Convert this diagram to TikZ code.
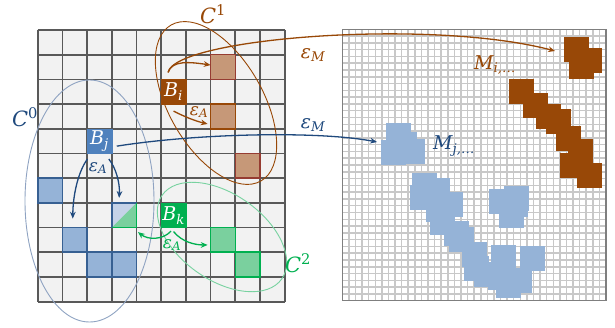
\documentclass[tikz,border=0pt]{standalone}
\usepackage{fontspec}
\newfontfamily\labfont{DejaVu Serif}
\usepackage{tikz}
\usetikzlibrary{arrows.meta,calc}
\definecolor{rust}{RGB}{152,72,7}
\definecolor{rustlight}{RGB}{198,152,120}
\definecolor{rustedge}{RGB}{150,60,50}
\definecolor{seedblue}{RGB}{79,129,189}
\definecolor{skyblue}{RGB}{149,179,215}
\definecolor{paleblue}{RGB}{197,211,232}
\definecolor{navy}{RGB}{31,73,125}
\definecolor{edgeblue}{RGB}{55,96,146}
\definecolor{seedgreen}{RGB}{0,176,80}
\definecolor{mint}{RGB}{122,208,158}
\definecolor{czeroline}{RGB}{143,163,194}
\definecolor{ctwoline}{RGB}{120,210,160}
\definecolor{cellgrey}{RGB}{242,242,242}
\definecolor{linegrey}{RGB}{89,89,89}
\definecolor{finegrey}{RGB}{200,200,200}
\definecolor{framegrey}{RGB}{127,127,127}
% italic symbol with subscript / upright superscript
\newcommand{\symsub}[3][19]{{\fontsize{#1}{#1}\selectfont\itshape #2\textsubscript{#3}}}
\newcommand{\symsup}[3][21]{{\fontsize{#1}{#1}\selectfont\itshape #2\textsuperscript{\upshape #3}}}
\tikzset{gridline/.style={draw=linegrey,line width=1.7pt},
         finegrid/.style={draw=finegrey,line width=1.5pt},
         cellbox/.style={minimum size=24.7pt,inner sep=0pt,outer sep=0pt},
         seedcell/.style={cellbox,fill=#1,draw=#1,text=white},
         hitcell/.style 2 args={cellbox,fill=#1,draw=#2,line width=1.6pt},
         linkarrow/.style={draw=#1,line width=1.3pt,-{Stealth[length=2.4mm,width=2mm]}},
         cluster/.style={draw=#1,line width=0.9pt},
         lbl/.style={text=#1,inner sep=0pt}}

\begin{document}
\begin{tikzpicture}[x=1pt,y=-1pt,font=\labfont]
  \useasboundingbox (0,0) rectangle (615,328);
  % coarse grid
  \fill[cellgrey] (37.7,30) rectangle (284.7,301.7);
  \foreach \c in {0,...,10}
    \draw[gridline] ({37.7+24.7*\c},30) -- ++(0,271.7);
  \foreach \r in {0,...,11}
    \draw[gridline] (37.7,{30+24.7*\r}) -- ++(247,0);
  % fine grid
  \foreach \k in {1,...,39} {
    \draw[finegrid] ({342.3+6.5925*\k},29.3) -- ++(0,271.4);
    \draw[finegrid] (342.3,{29.3+6.785*\k}) -- ++(263.7,0);
  }
  \draw[framegrey,line width=1.5pt] (342.3,29.3) rectangle (606,300.7);
  % blobs
  \foreach \x/\y in {564/37,577/48,569/54.5,509/79,523/93,536/104,546/109,
                     556/126,568/139,560/153,577/163}
    \fill[rust] (\x,\y) rectangle ++(24.7,24.7);
  \foreach \x/\y in {386/123,392/132,400/139,381/140,
                     412/173,410/185,425/178,438/192,426/197,430/210,444/221,
                     449/227,462/242,464/256,474/262,491/245,488/265,496/273,
                     507/268,520/246,489/189,504/186,499/203,503/192}
    \fill[skyblue] (\x,\y) rectangle ++(24.7,24.7);
  \coordinate (mi) at (555,51);
  \coordinate (mj) at (377,142);

  % cells
  \begin{scope}[shift={(37.7,30)},x=24.7pt,y=-24.7pt]
    \node[seedcell=rust] (bi) at (5.5,2.5) {\symsub{B}{i}};
    \node[hitcell={rustlight}{rustedge}] (ci1) at (7.5,1.5) {};
    \node[hitcell={rustlight}{rust}] (ci2) at (7.5,3.5) {};
    \node[hitcell={rustlight}{rustedge}] (ci3) at (8.5,5.5) {};
    \node[seedcell=seedblue] (bj) at (2.5,4.5) {\symsub{B}{j}};
    \node[hitcell={skyblue}{edgeblue}] (cj1) at (0.5,6.5) {};
    \node[hitcell={skyblue}{edgeblue}] (cj2) at (1.5,8.5) {};
    \node[hitcell={skyblue}{edgeblue}] (cj3) at (2.5,9.5) {};
    \node[hitcell={skyblue}{edgeblue}] (cj4) at (3.5,9.5) {};
    \node[seedcell=seedgreen] (bk) at (5.5,7.5) {\symsub{B}{k}};
    \node[hitcell={mint}{seedgreen}] (ck1) at (7.5,8.5) {};
    \node[hitcell={mint}{seedgreen}] (ck2) at (8.5,9.5) {};
    \node[cellbox] (tri) at (3.5,7.5) {};
  \end{scope}
  \fill[paleblue] (tri.north west) -- (tri.north east) -- (tri.south west) -- cycle;
  \fill[mint] (tri.north east) -- (tri.south east) -- (tri.south west) -- cycle;
  \draw[edgeblue,line width=1.8pt] (tri.south west) -- (tri.north west) -- (tri.north east);
  \draw[seedgreen,line width=1.8pt] (tri.north east) -- (tri.south east) -- (tri.south west);

  % clusters
  \draw[cluster=czeroline] (89.5,201) ellipse [x radius=64.5pt, y radius=121pt];
  \draw[cluster=rust,shift={(216,103)},rotate=-60] (0,0) ellipse [x radius=90pt, y radius=47pt];
  \draw[cluster=ctwoline,shift={(222,237)},rotate=-35] (0,0) ellipse [x radius=73pt, y radius=43pt];
  \node[lbl=navy] (czero) at (25,117) {\symsup{C}{0}};
  \node[lbl=rust] (cone) at (213,14) {\symsup{C}{1}};
  \node[lbl=seedgreen] (ctwo) at (298,263) {\symsup{C}{2}};

  % links
  \draw[linkarrow=rust] ([xshift=-5.5pt,yshift=7pt]bi.north) .. controls (175,38) and (430,18) .. (mi);
  \draw[linkarrow=rust] ([xshift=-5.5pt,yshift=7pt]bi.north) .. controls (172,60) and (190,62) .. ([yshift=2pt]ci1.west);
  \draw[linkarrow=rust] ([yshift=-7pt]bi.south) .. controls (183,116) and (195,121) .. ([xshift=-3pt,yshift=-7.5pt]ci2.west);
  \draw[linkarrow=navy] ([xshift=5pt,yshift=-5pt]bj.east) .. controls (200,133) and (320,131) .. (mj);
  \draw[linkarrow=navy] ([xshift=-12pt,yshift=-5.5pt]bj.south) .. controls (78,172) and (73,195) .. ([xshift=-2pt,yshift=9pt]cj2.north);
  \draw[linkarrow=navy] ([xshift=-3pt,yshift=-5.5pt]bj.south east) .. controls (116,168) and (120,183) .. ([xshift=-5pt,yshift=5pt]tri.north);
  \draw[linkarrow=seedgreen] ([xshift=-2.5pt,yshift=-3.5pt]bk.south) .. controls (163,240) and (148,240) .. ([xshift=1.5pt,yshift=-4.5pt]tri.south east);
  \draw[linkarrow=seedgreen] ([yshift=-4pt]bk.south) .. controls (182,242) and (195,245) .. ([xshift=-3pt,yshift=-5pt]ck1.west);

  % labels
  \node[lbl=rust] (emi) at (313,55) {\symsub{ε}{M}};
  \node[lbl=navy] (emj) at (313,125) {\symsub{ε}{M}};
  \node[lbl=rust] (eai) at (199,112) {\symsub[17]{ε}{A}};
  \node[lbl=navy] (eaj) at (98,168) {\symsub[17]{ε}{A}};
  \node[lbl=seedgreen] (eak) at (172,245) {\symsub[17]{ε}{A}};
  \node[lbl=rust] (mlabi) at (495,65) {\symsub{M}{i,…}};
  \node[lbl=navy] (mlabj) at (454,146) {\symsub{M}{j,…}};
\end{tikzpicture}
\end{document}
